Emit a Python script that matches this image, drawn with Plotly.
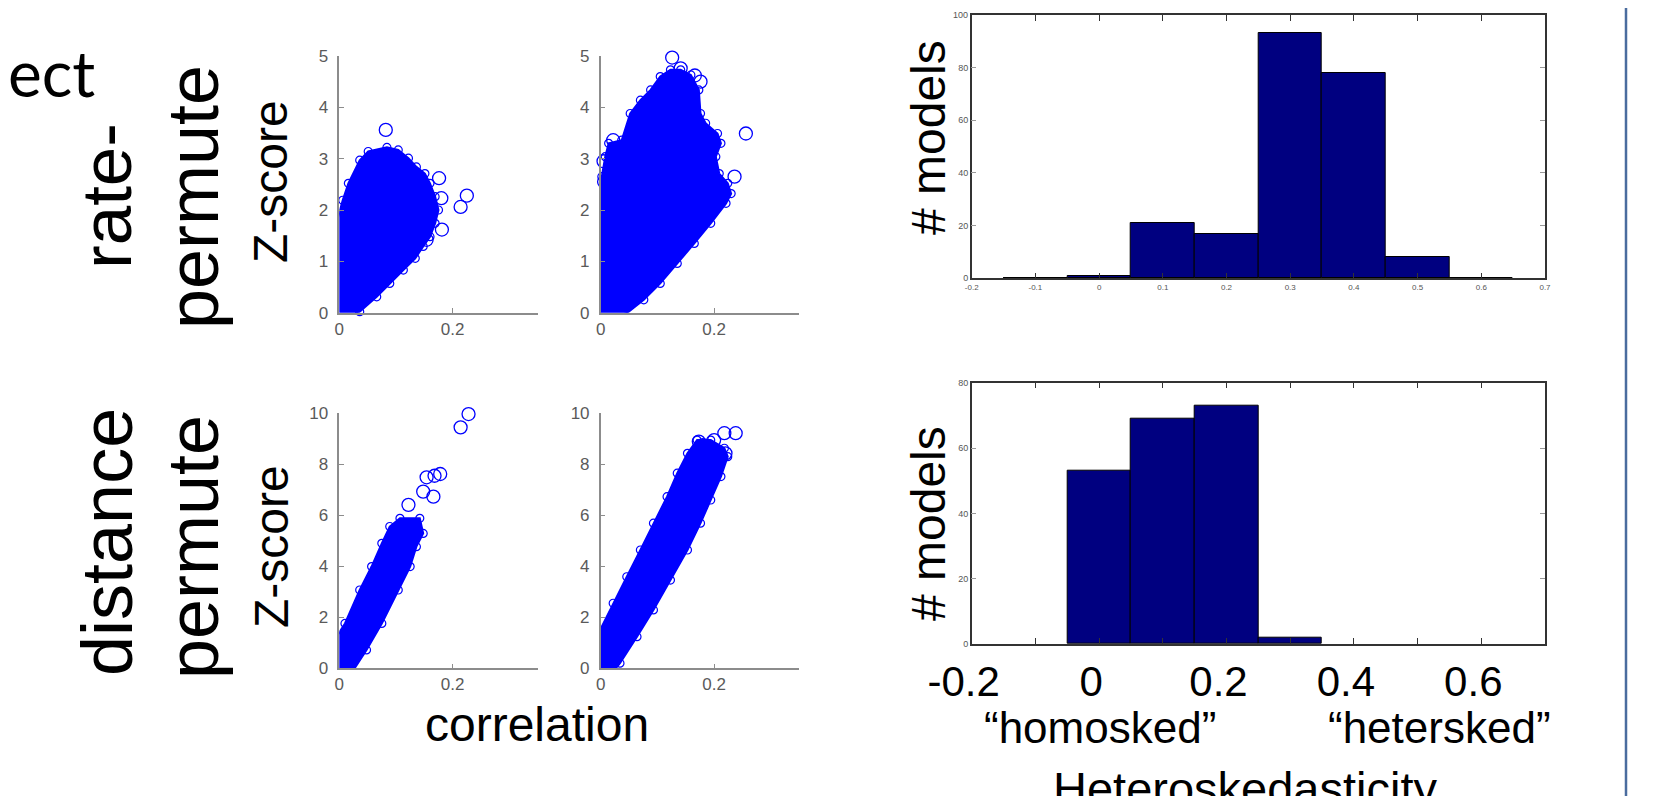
import plotly.graph_objects as go

W, H = 1659, 796
OFF = 8  # default page margin of the html body
FW, FH = W - OFF, H - OFF

# ---------------- data ----------------
# envelope of the dense point clouds (correlation, Z-score)
tl_cloud_x = [-0.019, -0.024, -0.021, -0.018, -0.009, -0.002, 0.006, 0.016, 0.036, 0.051, 0.084, 0.104, 0.122,
              0.136, 0.151, 0.160, 0.169, 0.175, 0.169, 0.160, 0.148, 0.134, 0.113, 0.089, 0.066, 0.036, 0.019, -0.005]
tl_cloud_y = [0.0, 0.31, 0.70, 1.09, 1.48, 1.87, 2.19, 2.52, 2.97, 3.14, 3.22, 3.17, 3.01,
              2.84, 2.71, 2.52, 2.26, 2.00, 1.74, 1.48, 1.29, 1.06, 0.83, 0.57, 0.31, 0.02, -0.09, -0.09]
tl_out_x = [0.082, 0.225, 0.214, 0.181, 0.180, 0.176, 0.154]
tl_out_y = [3.56, 2.28, 2.06, 1.62, 2.23, 2.62, 1.42]

tr_cloud_x = [-0.022, -0.019, -0.013, -0.007, -0.004, 0.002, 0.008, 0.014, 0.037, 0.052, 0.070, 0.088, 0.105,
              0.123, 0.141, 0.159, 0.173, 0.176, 0.185, 0.206, 0.212, 0.203, 0.209, 0.224, 0.230, 0.221, 0.194,
              0.165, 0.135, 0.105, 0.076, 0.046, 0.017, -0.013]
tr_cloud_y = [0.0, 0.44, 1.29, 1.87, 2.26, 2.65, 3.04, 3.30, 3.36, 3.88, 4.14, 4.34, 4.60,
              4.73, 4.73, 4.63, 4.34, 3.88, 3.69, 3.49, 3.30, 3.04, 2.71, 2.52, 2.32, 2.13, 1.74,
              1.35, 0.96, 0.57, 0.25, -0.01, -0.09, -0.09]
tr_out_x = [0.126, 0.176, 0.141, 0.256, 0.236, 0.022, 0.166, 0.005, 0.006]
tr_out_y = [4.97, 4.50, 4.76, 3.49, 2.65, 3.36, 4.62, 2.95, 2.55]

bl_cloud_x = [-0.019, -0.022, -0.016, 0.010, 0.036, 0.057, 0.075, 0.089, 0.107, 0.142, 0.148, 0.136, 0.125,
              0.104, 0.075, 0.048, 0.025, 0.007]
bl_cloud_y = [-0.26, 0.46, 0.85, 1.76, 3.07, 3.99, 4.90, 5.56, 5.88, 5.88, 5.29, 4.77, 3.99,
              3.07, 1.76, 0.72, -0.07, -0.26]
bl_out_x = [0.228, 0.214, 0.154, 0.178, 0.166, 0.122, 0.148, 0.168]
bl_out_y = [9.97, 9.45, 7.49, 7.62, 6.73, 6.41, 6.93, 7.55]

br_cloud_x = [-0.022, -0.020, -0.001, 0.022, 0.046, 0.070, 0.093, 0.117, 0.135, 0.153, 0.170, 0.194, 0.218,
              0.224, 0.212, 0.194, 0.176, 0.153, 0.123, 0.093, 0.064, 0.034, 0.017, -0.013]
br_cloud_y = [-0.26, 0.59, 1.50, 2.55, 3.59, 4.64, 5.69, 6.73, 7.65, 8.43, 8.95, 8.95, 8.63,
              8.30, 7.52, 6.60, 5.69, 4.64, 3.46, 2.29, 1.24, 0.20, -0.26, -0.26]
br_out_x = [0.173, 0.218, 0.238, 0.200, 0.220, 0.180]
br_out_y = [8.89, 9.22, 9.22, 8.95, 8.43, 8.75]

# histograms of heteroskedasticity
hist_top_centers = [-0.1, 0.0, 0.1, 0.2, 0.3, 0.4, 0.5, 0.6]
hist_top_counts = [0, 1, 21, 17, 93, 78, 8, 0]
hist_bot_centers = [0.0, 0.1, 0.2, 0.3]
hist_bot_counts = [53, 69, 73, 2]

scatter_xticks = [0, 0.2]
scatter_xticktext = ["0", "0.2"]
top_yticks = [0, 1, 2, 3, 4, 5]
bot_yticks = [0, 2, 4, 6, 8, 10]
hist_xticks = [-0.2, -0.1, 0.0, 0.1, 0.2, 0.3, 0.4, 0.5, 0.6, 0.7]
hist_top_xtext = ["-0.2", "-0.1", "0", "0.1", "0.2", "0.3", "0.4", "0.5", "0.6", "0.7"]
hist_bot_xtext = ["-0.2", "", "0", "", "0.2", "", "0.4", "", "0.6", ""]

# ---------------- helpers (page pixel -> paper fraction) ----------------
def px(x):
    return (x - OFF) / FW

def py(y):
    return 1 - (y - OFF) / FH

BLUE = "#0000ff"
NAVY = "#000080"
GRAY = "#5a5a5a"
FONT = "Liberation Sans, Arial, sans-serif"

fig = go.Figure()

clouds = [
    (tl_cloud_x, tl_cloud_y, tl_out_x, tl_out_y, "x", "y"),
    (tr_cloud_x, tr_cloud_y, tr_out_x, tr_out_y, "x2", "y2"),
    (bl_cloud_x, bl_cloud_y, bl_out_x, bl_out_y, "x3", "y3"),
    (br_cloud_x, br_cloud_y, br_out_x, br_out_y, "x4", "y4"),
]
for cx, cy, ox, oy, xa, ya in clouds:
    fig.add_trace(go.Scatter(
        x=cx + [cx[0]], y=cy + [cy[0]], xaxis=xa, yaxis=ya, mode="lines+markers",
        fill="toself", fillcolor=BLUE, line=dict(color=BLUE, width=2),
        marker=dict(symbol="circle-open", size=8, color=BLUE, line=dict(width=1.2)),
        cliponaxis=False, showlegend=False, hoverinfo="skip"))
    fig.add_trace(go.Scatter(
        x=ox, y=oy, xaxis=xa, yaxis=ya, mode="markers",
        marker=dict(symbol="circle-open", size=13, color=BLUE, line=dict(width=1.3)),
        cliponaxis=False, showlegend=False))

fig.add_trace(go.Bar(x=hist_top_centers, y=hist_top_counts, width=0.1, xaxis="x5", yaxis="y5",
                     marker=dict(color=NAVY, line=dict(color="#000000", width=1)), showlegend=False))
fig.add_trace(go.Bar(x=hist_bot_centers, y=hist_bot_counts, width=0.1, xaxis="x6", yaxis="y6",
                     marker=dict(color=NAVY, line=dict(color="#000000", width=1)), showlegend=False))

sc_x_dom = {"L": [px(339.3), px(537.7)], "R": [px(600.7), px(799.2)]}
sc_y_dom = {"T": [py(312.7), py(56)], "B": [py(668.3), py(413.3)]}

def sc_xaxis(dom, anchor):
    return dict(domain=dom, anchor=anchor, range=[0, 0.35], tickvals=scatter_xticks,
                ticktext=scatter_xticktext, showline=True, linecolor="#8c8c8c", linewidth=1.5,
                ticks="inside", ticklen=5, tickcolor="#8c8c8c", showgrid=False, zeroline=False,
                automargin=False, tickfont=dict(family=FONT, size=17, color=GRAY))

def sc_yaxis(dom, anchor, rng, vals):
    return dict(domain=dom, anchor=anchor, range=rng, tickvals=vals, showline=True,
                linecolor="#8c8c8c", linewidth=1.5, ticks="inside", ticklen=5, tickcolor="#8c8c8c",
                showgrid=False, zeroline=False, automargin=False, ticklabelstandoff=6,
                tickfont=dict(family=FONT, size=17, color=GRAY))

hist_x_dom = [px(971.7), px(1545)]

def h_xaxis(anchor, text, size, color, shift=0):
    return dict(domain=hist_x_dom, anchor=anchor, range=[-0.2, 0.7], tickvals=hist_xticks,
                ticktext=text, showline=True, mirror="ticks", linecolor="#333333", linewidth=1.5,
                ticks="inside", ticklen=6, tickcolor="#333333", showgrid=False, zeroline=False,
                automargin=False, ticklabelshift=shift,
                tickfont=dict(family=FONT, size=size, color=color))

def h_yaxis(dom, anchor, rng, dt):
    return dict(domain=dom, anchor=anchor, range=rng, dtick=dt, showline=True, mirror="ticks",
                linecolor="#333333", linewidth=1.5, ticks="inside", ticklen=5, tickcolor="#999999",
                showgrid=False, zeroline=False, automargin=False,
                tickfont=dict(family=FONT, size=9, color="#555555"))

annotations = []

def ann(text, x, y, size, angle=0, family=FONT, xanchor="center", yanchor="middle"):
    annotations.append(dict(text=text, x=px(x), y=py(y), xref="paper", yref="paper",
                            showarrow=False, textangle=angle, xanchor=xanchor, yanchor=yanchor,
                            font=dict(family=family, size=size, color="#000000")))

ann("ect", 6, 72, 64, family="Lato, Open Sans, sans-serif", xanchor="left")
ann("rate-", 107, 196, 71, angle=-90)
ann("permute", 193, 197, 72, angle=-90)
ann("Z-score", 271, 182, 48, angle=-90)
ann("distance", 107, 542, 72, angle=-90)
ann("permute", 193, 547, 72, angle=-90)
ann("Z-score", 271, 547, 48, angle=-90)
ann("correlation", 537, 724, 48)
ann("# models", 928, 138, 48, angle=-90)
ann("# models", 928, 524, 48, angle=-90)
ann("\u201chomosked\u201d", 1100, 727, 44)
ann("\u201chetersked\u201d", 1439, 727, 44)
ann("Heteroskedasticity", 1245, 788, 47)

fig.update_layout(
    template="none",
    width=FW, height=FH, margin=dict(l=0, r=0, t=0, b=0, pad=0, autoexpand=False),
    paper_bgcolor="white", plot_bgcolor="white", bargap=0,
    xaxis=sc_xaxis(sc_x_dom["L"], "y"), yaxis=sc_yaxis(sc_y_dom["T"], "x", [0, 5], top_yticks),
    xaxis2=sc_xaxis(sc_x_dom["R"], "y2"), yaxis2=sc_yaxis(sc_y_dom["T"], "x2", [0, 5], top_yticks),
    xaxis3=sc_xaxis(sc_x_dom["L"], "y3"), yaxis3=sc_yaxis(sc_y_dom["B"], "x3", [0, 10], bot_yticks),
    xaxis4=sc_xaxis(sc_x_dom["R"], "y4"), yaxis4=sc_yaxis(sc_y_dom["B"], "x4", [0, 10], bot_yticks),
    xaxis5=h_xaxis("y5", hist_top_xtext, 8, "#555555"),
    yaxis5=h_yaxis([py(278.3), py(15)], "x5", [0, 100], 20),
    xaxis6=h_xaxis("y6", hist_bot_xtext, 42, "#000000", shift=-8),
    yaxis6=h_yaxis([py(644), py(382.7)], "x6", [0, 80], 20),
    annotations=annotations,
    shapes=[dict(type="line", xref="paper", yref="paper", x0=px(1626), x1=px(1626), y0=0, y1=1,
                 line=dict(color="#4a6c9e", width=2.5))],
)

fig.write_html("out.html")
